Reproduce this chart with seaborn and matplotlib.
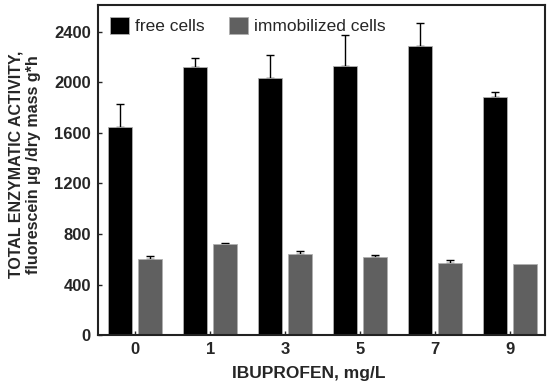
import matplotlib
matplotlib.use('Agg')
import matplotlib.pyplot as plt
import pandas as pd
import seaborn as sns

# Data
concentrations = ['0', '1', '3', '5', '7', '9']
free_cells = [1645, 2120, 2035, 2130, 2290, 1880]
free_err = [180, 70, 180, 240, 180, 40]
immobilized_cells = [600, 718, 645, 618, 570, 562]
immobilized_err = [27, 14, 18, 16, 24, 0]
series = ['free cells', 'immobilized cells']

df = pd.DataFrame({
    'conc': concentrations * 2,
    'value': free_cells + immobilized_cells,
    'cells': [series[0]] * len(concentrations) + [series[1]] * len(concentrations),
})

sns.set_theme(style='ticks')
plt.rcParams['font.family'] = ['Liberation Sans', 'DejaVu Sans']

fig = plt.figure(figsize=(5.5, 3.91), dpi=100)
ax = fig.add_axes([0.178, 0.143, 0.813, 0.844])

sns.barplot(data=df, x='conc', y='value', hue='cells', order=concentrations,
            hue_order=series, palette=['#000000', '#606060'], gap=0.2,
            errorbar=None, edgecolor='#b0b0b0', linewidth=0.6, ax=ax)

# one-sided error bars drawn behind the bars, so only the upper half shows
for container, errs in zip(ax.containers, [free_err, immobilized_err]):
    pts = [(b.get_x() + b.get_width() / 2, b.get_height(), e)
           for b, e in zip(container, errs) if e > 0]
    xs, ys, es = zip(*pts)
    ax.errorbar(xs, ys, yerr=[[0] * len(es), list(es)], fmt='none',
                ecolor='black', elinewidth=1, capsize=3, capthick=1,
                zorder=0.5)

ax.set_ylim(0, 2610)
ax.set_xlim(-0.5, 5.47)
ax.set_yticks([0, 400, 800, 1200, 1600, 2000, 2400])
ax.tick_params(direction='in', length=3, width=1, labelsize=12)
ax.tick_params(axis='y', pad=5)
ax.tick_params(axis='x', pad=5)
for lbl in ax.get_xticklabels() + ax.get_yticklabels():
    lbl.set_fontweight('bold')
for sp in ax.spines.values():
    sp.set_visible(True)
    sp.set_linewidth(1.5)
    sp.set_color('#222222')

ax.set_xlabel('IBUPROFEN, mg/L', fontsize=12.5, fontweight='bold')
ax.xaxis.set_label_coords(0.471, -0.095)
ax.set_ylabel('TOTAL ENZYMATIC ACTIVITY,\nfluorescein µg /dry mass g*h',
              fontsize=11.5, fontweight='bold')
ax.yaxis.set_label_coords(-0.128, 0.518)

ax.legend(loc='upper left', ncol=2, frameon=False, fontsize=12.5,
          handlelength=1.1, handleheight=1.1, handletextpad=0.35,
          columnspacing=1.4, borderaxespad=0.3)

fig.savefig('out.png', dpi=100)
